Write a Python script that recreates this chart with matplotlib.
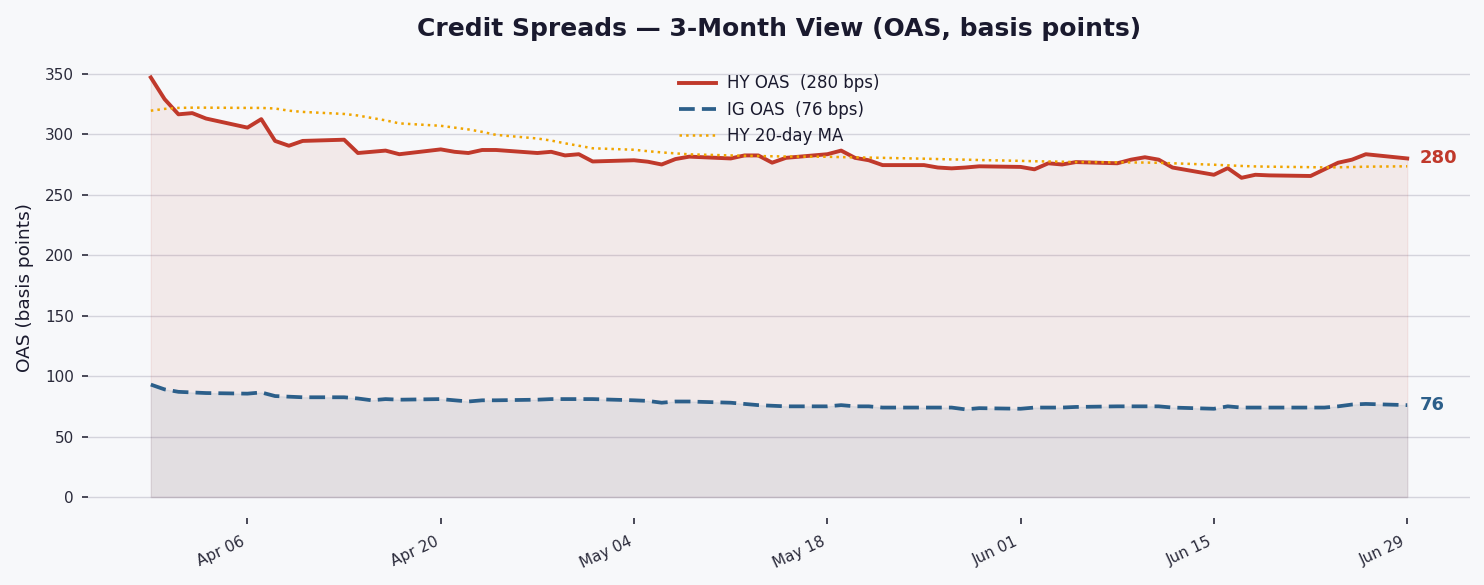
import matplotlib
matplotlib.use("Agg")
import matplotlib.pyplot as plt
import matplotlib.dates as mdates
import pandas as pd

BG = "#f7f8fa"
INK = "#1a1a2e"
RED = "#c0392b"
BLUE = "#2c5f8a"
ORANGE = "#f0a500"
GRID = "#d4d4dc"

dates = pd.bdate_range("2026-03-30", "2026-06-29")

hy_oas = [
    347, 329, 316.5, 317.5, 313,
    305.5, 312.5, 294.5, 290.5, 294.5,
    295.5, 284.5, 285.5, 286.5, 283.5,
    287.5, 285.5, 284.5, 287, 287,
    284.5, 285.5, 282.5, 283.5, 277.5,
    278.5, 277.3, 275, 279.5, 281.5,
    280, 282.5, 282.5, 276.5, 280.5,
    283.5, 286.5, 280.5, 278.5, 274.5,
    274.5, 272.5, 271.8, 272.5, 273.5,
    273, 271, 276, 275, 277,
    276, 279, 281, 279, 272.5,
    266.5, 272, 264, 266.5, 266,
    265.5, 271, 276.5, 279, 283.5,
    280,
]
ig_oas = [
    93, 89, 87, 86.5, 86,
    85.5, 86.5, 83.5, 83, 82.5,
    82.5, 81.5, 80, 81, 80.5,
    81, 80, 79, 80, 80,
    80.5, 81, 81, 81, 81,
    80, 79.5, 78, 79, 79,
    78, 77, 76, 75.5, 75,
    75, 76, 75, 75, 74,
    74, 74, 74, 72.5, 73.5,
    73, 74, 74, 74, 74.5,
    75, 75, 75, 75, 74,
    73, 75, 74, 74, 74,
    74, 74, 75, 76.5, 77,
    76,
]
hy_ma20 = [
    319.5, 321, 321.8, 322, 322,
    321.8, 321.8, 321.3, 319.5, 318.5,
    316.8, 315.5, 313.5, 311.5, 309,
    307, 305.5, 304, 302, 299.5,
    296.5, 294.8, 292.5, 290.5, 288.4,
    287.2, 286, 285, 284.2, 283.4,
    282.5, 282.2, 282, 281.8, 281.6,
    281.4, 281.1, 280.9, 280.7, 280.5,
    279.8, 279.5, 279.2, 279, 278.7,
    278, 277.7, 277.5, 277.3, 277,
    276.8, 276.7, 276.6, 276.4, 276,
    274.8, 274.3, 273.8, 273.4, 273.2,
    272.8, 272.6, 272.7, 272.9, 273.2,
    273.5,
]

fig = plt.figure(figsize=(14.84, 5.85), dpi=100, facecolor=BG)
ax = fig.add_axes([0.0593, 0.1145, 0.9313, 0.789])
ax.set_facecolor(BG)

ax.fill_between(dates, hy_oas, 0, color=RED, alpha=0.08)
ax.fill_between(dates, ig_oas, 0, color=BLUE, alpha=0.08)
ax.plot(dates, hy_oas, color=RED, lw=2.8, label=f"HY OAS  ({hy_oas[-1]:.0f} bps)")
ax.plot(dates, ig_oas, color=BLUE, lw=2.7, ls="--", dashes=(4.2, 1.9),
        label=f"IG OAS  ({ig_oas[-1]:.0f} bps)")
ax.plot(dates, hy_ma20, color=ORANGE, lw=1.8, ls=":", label="HY 20-day MA")

ax.annotate(f"{hy_oas[-1]:.0f}", (dates[-1], hy_oas[-1]), xytext=(9, 0),
            textcoords="offset points", va="center", ha="left",
            fontsize=13, fontweight="bold", color=RED)
ax.annotate(f"{ig_oas[-1]:.0f}", (dates[-1], ig_oas[-1]), xytext=(9, 0),
            textcoords="offset points", va="center", ha="left",
            fontsize=13, fontweight="bold", color=BLUE)

for s in ax.spines.values():
    s.set_visible(False)
ax.yaxis.grid(True, color=GRID, lw=1)
ax.set_axisbelow(True)

ax.set_xticks(pd.date_range("2026-04-06", "2026-06-29", freq="14D"))
ax.xaxis.set_major_formatter(mdates.DateFormatter("%b %d"))
plt.setp(ax.get_xticklabels(), rotation=25, ha="right")
ax.tick_params(axis="both", labelsize=11, colors="#2a2a3a", length=4.5, width=1.2)
ax.tick_params(axis="x", pad=7)
ax.tick_params(axis="y", pad=5.5)

ax.set_ylabel("OAS (basis points)", fontsize=13.3, color=INK, labelpad=8)
ax.set_title("Credit Spreads — 3-Month View (OAS, basis points)", fontsize=18,
             fontweight="bold", color=INK, pad=15)

leg = ax.legend(loc="upper center", frameon=False, fontsize=12, handlelength=2.2,
                handletextpad=0.65, borderaxespad=0.68)
for t in leg.get_texts():
    t.set_color(INK)

fig.savefig("out.png", facecolor=BG)
